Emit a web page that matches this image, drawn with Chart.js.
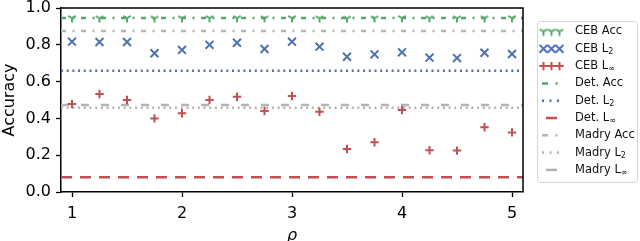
<!DOCTYPE html>
<html>
<head>
<meta charset="utf-8">
<script src="https://cdn.jsdelivr.net/npm/chart.js@4.4.1/dist/chart.umd.min.js"></script>
<style>
  html, body { margin: 0; padding: 0; background: #fff; }
  #wrap { width: 640px; height: 241px; }
</style>
</head>
<body>
<div id="wrap"><canvas id="chart"></canvas></div>
<script>
// values
const rho = [1, 1.25, 1.5, 1.75, 2, 2.25, 2.5, 2.75, 3, 3.25, 3.5, 3.75, 4, 4.25, 4.5, 4.75, 5];
const cebAcc = [0.945, 0.944, 0.945, 0.943, 0.944, 0.945, 0.945, 0.944, 0.945, 0.944, 0.943, 0.944, 0.945, 0.944, 0.944, 0.944, 0.945];
const cebL2 = [0.817, 0.815, 0.815, 0.754, 0.772, 0.800, 0.811, 0.777, 0.817, 0.790, 0.735, 0.748, 0.759, 0.730, 0.728, 0.757, 0.750];
const cebLinf = [0.478, 0.533, 0.500, 0.400, 0.428, 0.500, 0.518, 0.440, 0.522, 0.436, 0.234, 0.270, 0.446, 0.227, 0.225, 0.352, 0.324];
const baselineNames = ["Det. Acc", "Det. L_2", "Det. L_∞", "Madry Acc", "Madry L_2", "Madry L_∞"];
const baselineValues = [0.945, 0.659, 0.080, 0.875, 0.458, 0.473];
const xTicks = [1, 2, 3, 4, 5];
const yTicks = [0, 0.2, 0.4, 0.6, 0.8, 1.0];
const xMin = 0.9, xMax = 5.1;

const GREEN = "#55a868", BLUE = "#4c72b0", RED = "#c44e52", GRAY = "#b4b4b4";
const FONT = "DejaVu Sans";

function triDown(color) {
  const c = document.createElement("canvas");
  c.width = c.height = 10;
  const g = c.getContext("2d");
  const m = 5, r = 4.3;
  g.strokeStyle = color;
  g.lineWidth = 2;
  g.beginPath();
  g.moveTo(m, m); g.lineTo(m, m + r);
  g.moveTo(m, m); g.lineTo(m - r * 0.866, m - r * 0.5);
  g.moveTo(m, m); g.lineTo(m + r * 0.866, m - r * 0.5);
  g.stroke();
  return c;
}
const triGreen = triDown(GREEN);

const pts = ys => rho.map((x, i) => ({ x: x, y: ys[i] }));
const hline = v => [{ x: xMin, y: v }, { x: xMax, y: v }];

const lineStyles = [
  { color: GREEN, dash: [5, 6.5, 2, 6.5] },
  { color: BLUE, dash: [2, 3.7] },
  { color: RED, dash: [11, 8] },
  { color: GRAY, dash: [5, 6.5, 2, 6.5] },
  { color: GRAY, dash: [2, 3.7] },
  { color: GRAY, dash: [8, 12] }
];

const datasets = [
  { label: "CEB Acc", data: pts(cebAcc), showLine: false, pointStyle: triGreen, pointRadius: 5, borderColor: GREEN },
  { label: "CEB L_2", data: pts(cebL2), showLine: false, pointStyle: "crossRot", pointRadius: 5.6, borderWidth: 2, borderColor: BLUE },
  { label: "CEB L_∞", data: pts(cebLinf), showLine: false, pointStyle: "cross", pointRadius: 4.2, borderWidth: 2, borderColor: RED }
];
baselineNames.forEach((name, i) => {
  datasets.push({
    type: "line",
    label: name,
    data: hline(baselineValues[i]),
    borderColor: lineStyles[i].color,
    borderDash: lineStyles[i].dash,
    borderWidth: 2.5,
    pointRadius: 0,
    fill: false
  });
});

// top and right spines
const framePlugin = {
  id: "frame",
  afterDraw(chart) {
    const a = chart.chartArea, ctx = chart.ctx;
    ctx.save();
    ctx.strokeStyle = "#000";
    ctx.lineWidth = 1.5;
    ctx.beginPath();
    ctx.moveTo(a.left, a.top);
    ctx.lineTo(a.right, a.top);
    ctx.lineTo(a.right, a.bottom);
    ctx.stroke();
    ctx.restore();
  }
};

function drawLabel(ctx, text, x, y) {
  const parts = text.split("_");
  ctx.font = "11.5px " + FONT;
  ctx.fillText(parts[0], x, y);
  if (parts[1]) {
    const w = ctx.measureText(parts[0]).width;
    ctx.font = "8px " + FONT;
    ctx.fillText(parts[1], x + w, y + 3);
  }
}

// matplotlib-like legend box
const legendPlugin = {
  id: "mplLegend",
  afterDraw(chart) {
    const ctx = chart.ctx;
    const bx = 537.5, by = 21.5, bw = 100, bh = 161, r = 3;
    ctx.save();
    ctx.beginPath();
    ctx.moveTo(bx + r, by);
    ctx.arcTo(bx + bw, by, bx + bw, by + bh, r);
    ctx.arcTo(bx + bw, by + bh, bx, by + bh, r);
    ctx.arcTo(bx, by + bh, bx, by, r);
    ctx.arcTo(bx, by, bx + bw, by, r);
    ctx.closePath();
    ctx.fillStyle = "rgba(255,255,255,0.8)";
    ctx.fill();
    ctx.strokeStyle = "#d6d6d6";
    ctx.lineWidth = 1;
    ctx.stroke();

    const rowY = i => 31.5 + i * 17.3;
    // scatter entries
    [0, 1, 2].forEach(i => {
      const ds = chart.data.datasets[i];
      const y = rowY(i);
      [543.5, 551.5, 559.5].forEach(x => {
        ctx.strokeStyle = ds.borderColor;
        ctx.lineWidth = ds.borderWidth || 1.7;
        Chart.helpers.drawPoint(ctx, { pointStyle: ds.pointStyle, radius: ds.pointRadius, rotation: 0, borderWidth: ds.borderWidth || 1.7 }, x, y);
      });
    });
    // line entries
    lineStyles.forEach((s, k) => {
      const y = rowY(k + 3);
      ctx.strokeStyle = s.color;
      ctx.lineWidth = 2.5;
      ctx.setLineDash([]);
      ctx.beginPath();
      if (s.dash.length === 4) {
        ctx.moveTo(542, y); ctx.lineTo(548, y);
        ctx.moveTo(555.5, y); ctx.lineTo(557.5, y);
      } else if (s.dash[0] === 2) {
        [542, 549.5, 557].forEach(x => { ctx.moveTo(x, y); ctx.lineTo(x + 2, y); });
      } else {
        ctx.moveTo(546, y); ctx.lineTo(557, y);
      }
      ctx.stroke();
    });
    ctx.fillStyle = "#111";
    ctx.textBaseline = "middle";
    ctx.textAlign = "left";
    chart.data.datasets.forEach((ds, i) => drawLabel(ctx, ds.label, 575, rowY(i)));
    ctx.restore();
  }
};

const axisCommon = {
  type: "linear",
  grid: { display: true, drawOnChartArea: false, drawTicks: true, tickLength: 5, tickWidth: 1.3, tickColor: "#000" },
  border: { display: true, color: "#000", width: 1.5 },
};

new Chart(document.getElementById("chart"), {
  type: "scatter",
  data: { datasets: datasets },
  options: {
    responsive: true,
    maintainAspectRatio: false,
    animation: false,
    layout: { padding: { top: 8, right: 117, left: 0, bottom: 0 } },
    plugins: { legend: { display: false }, tooltip: { enabled: false } },
    scales: {
      x: Object.assign({}, axisCommon, {
        min: xMin, max: xMax,
        afterBuildTicks: s => { s.ticks = xTicks.map(v => ({ value: v })); },
        afterFit: s => { s.height = 49; s.paddingLeft = 0; s.paddingRight = 0; },
        ticks: { font: { family: FONT, size: 16 }, color: "#000", padding: 7, maxRotation: 0 },
        title: { display: true, text: "ρ", color: "#000", font: { family: FONT, size: 16, style: "italic" }, padding: { top: 0, bottom: -4 } }
      }),
      y: Object.assign({}, axisCommon, {
        min: 0, max: 1,
        afterBuildTicks: s => { s.ticks = yTicks.map(v => ({ value: v })); },
        afterFit: s => { s.width = 61; s.paddingTop = 0; s.paddingBottom = 0; },
        ticks: { font: { family: FONT, size: 16 }, color: "#000", padding: 5, callback: v => v.toFixed(1) },
        title: { display: true, text: "Accuracy", color: "#000", font: { family: FONT, size: 16 }, padding: { top: 0, bottom: 2 } }
      })
    }
  },
  plugins: [framePlugin, legendPlugin]
});
</script>
</body>
</html>
